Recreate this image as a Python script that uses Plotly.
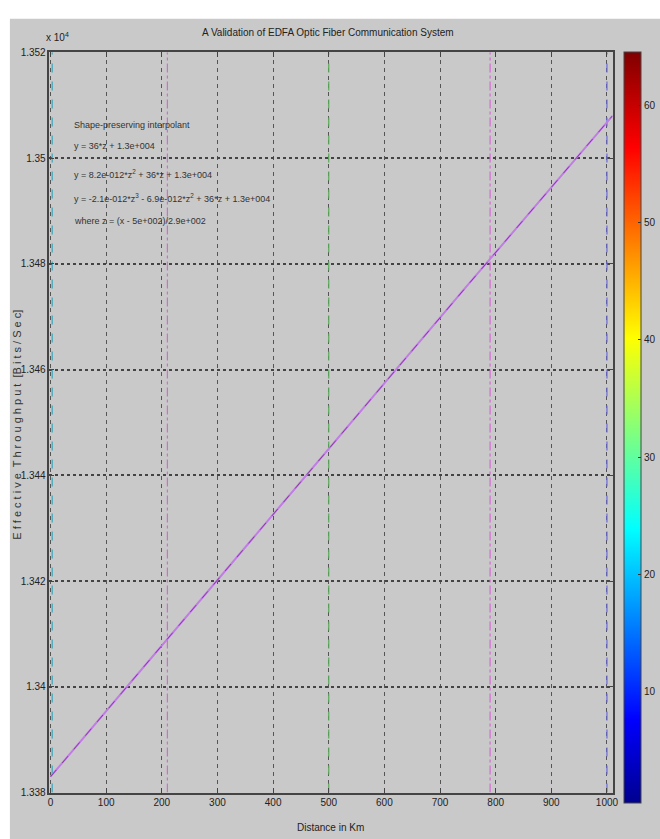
import plotly.graph_objects as go

# ---- data ----
distance_km = [0, 250, 500, 750, 1010]
throughput = [13383, 13414, 13445, 13476, 13508]

vline_x = [3, 210, 500, 790, 1000]
vline_colors = ["#3aa6b8", "#d46ad4", "#5aa85a", "#d46ad4", "#6a6ae0"]
vline_dash = ["dash", "dashdot", "dash", "dashdot", "dash"]

x_ticks = [0, 100, 200, 300, 400, 500, 600, 700, 800, 900, 1000]
y_ticks = [13380, 13400, 13420, 13440, 13460, 13480, 13500, 13520]
y_ticklabels = ["1.338", "1.34", "1.342", "1.344", "1.346", "1.348", "1.35", "1.352"]
cbar_ticks = [10, 20, 30, 40, 50, 60]

x_range = [-2, 1010]
y_range = [13380, 13520]

fit_lines = [
    "Shape-preserving interpolant",
    "y = 36*z + 1.3e+004",
    "y = 8.2e-012*z<sup>2</sup> + 36*z + 1.3e+004",
    "y = -2.1e-012*z<sup>3</sup> - 6.9e-012*z<sup>2</sup> + 36*z + 1.3e+004",
    "where z = (x - 5e+002)/2.9e+002",
]
fit_line_y = [121, 142, 170, 195, 218]

W, H = 660, 839
FONT = "Liberation Sans, Arial, sans-serif"

def px(x):
    return x / W

def py(y):
    return 1 - y / H

jet = [
    [0.0, "rgb(0,0,143)"],
    [0.111, "rgb(0,0,255)"],
    [0.365, "rgb(0,255,255)"],
    [0.619, "rgb(255,255,0)"],
    [0.873, "rgb(255,0,0)"],
    [1.0, "rgb(128,0,0)"],
]

fig = go.Figure()

for vx, vc, vd in zip(vline_x, vline_colors, vline_dash):
    fig.add_trace(go.Scatter(x=[vx, vx], y=y_range, mode="lines",
                             line=dict(color=vc, width=1.2, dash=vd),
                             hoverinfo="skip", showlegend=False))

fig.add_trace(go.Scatter(x=distance_km, y=throughput, mode="lines",
                         line=dict(color="#c27ce6", width=2),
                         showlegend=False))
fig.add_trace(go.Scatter(x=distance_km, y=throughput, mode="lines",
                         line=dict(color="#8a3aa8", width=1, dash="dash"),
                         showlegend=False))

# colorbar carrier
fig.add_trace(go.Scatter(x=[None], y=[None], mode="markers",
                         marker=dict(color=[0.5], colorscale=jet, cmin=0.5, cmax=64.5,
                                     showscale=True,
                                     colorbar=dict(
                                         x=px(630), xanchor="left",
                                         y=py(47), yanchor="top",
                                         lenmode="pixels", len=751,
                                         thickness=17, xpad=0, ypad=0,
                                         outlinewidth=1, outlinecolor="#444",
                                         tickvals=cbar_ticks, ticks="inside",
                                         ticklen=3, tickcolor="#333",
                                         tickfont=dict(family=FONT, size=10, color="#222"),
                                     )),
                         hoverinfo="skip", showlegend=False))

annotations = []
for t, yy in zip(fit_lines, fit_line_y):
    annotations.append(dict(text=t, x=px(71), y=py(yy), xref="paper", yref="paper",
                            xanchor="left", yanchor="middle", showarrow=False,
                            font=dict(family=FONT, size=9, color="#333")))

annotations += [
    dict(text="A Validation of EDFA Optic Fiber Communication System", x=px(330), y=py(27),
         xref="paper", yref="paper", xanchor="center", yanchor="middle", showarrow=False,
         font=dict(family=FONT, size=10, color="#222")),
    dict(text="x 10<sup>4</sup>", x=px(43), y=py(31), xref="paper", yref="paper",
         xanchor="left", yanchor="middle", showarrow=False,
         font=dict(family=FONT, size=10, color="#222")),
    dict(text="Distance in Km", x=px(333), y=py(833), xref="paper", yref="paper",
         xanchor="center", yanchor="middle", showarrow=False,
         font=dict(family=FONT, size=10, color="#222")),
    dict(text="E f f e c t i v e  T h r o u g h p u t  [B i t s / S e c]", x=px(15), y=py(425),
         xref="paper", yref="paper", xanchor="center", yanchor="middle", showarrow=False,
         textangle=-90, font=dict(family=FONT, size=11, color="#333")),
]

shapes = [
    dict(type="rect", xref="paper", yref="paper", x0=px(8), x1=1.01, y0=-0.01, y1=py(13),
         fillcolor="#c9c9c9", line=dict(width=0), layer="below"),
]

fig.update_layout(
    width=W, height=H,
    margin=dict(l=0, r=0, t=0, b=0),
    paper_bgcolor="white",
    plot_bgcolor="white",
    annotations=annotations,
    shapes=shapes,
    xaxis=dict(domain=[px(48), px(618)], range=x_range, tickvals=x_ticks,
               showgrid=True, gridcolor="#555", griddash="4px,4px", gridwidth=1,
               zeroline=False, showline=True, linecolor="#444", linewidth=1.5, mirror="ticks",
               ticks="inside", ticklen=5, tickcolor="#444",
               tickfont=dict(family=FONT, size=10, color="#222")),
    yaxis=dict(domain=[py(798), py(47)], range=y_range, tickvals=y_ticks, ticktext=y_ticklabels,
               showgrid=True, gridcolor="#444", griddash="dot", gridwidth=1.5,
               zeroline=False, showline=True, linecolor="#444", linewidth=1.5, mirror="ticks",
               ticks="inside", ticklen=5, tickcolor="#444",
               tickfont=dict(family=FONT, size=10, color="#222")),
)

fig.write_html("out.html", config={"displayModeBar": False},
               post_script="document.body.style.margin='0';document.documentElement.style.overflow='hidden';")
